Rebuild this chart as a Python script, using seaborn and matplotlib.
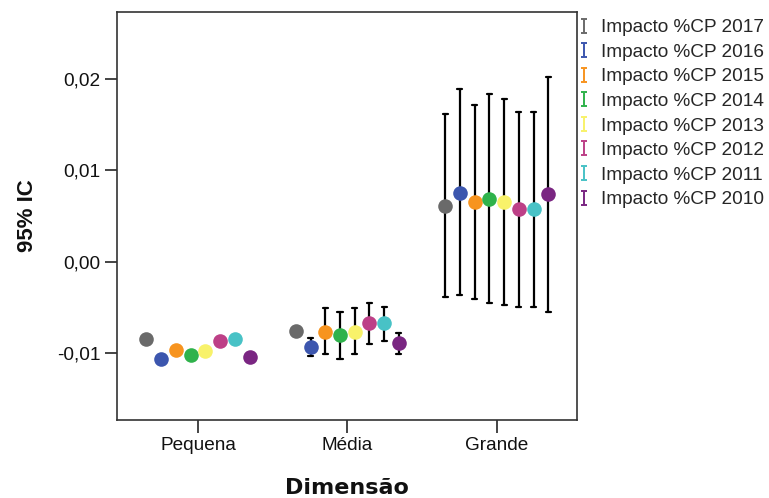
import numpy as np
import pandas as pd
import seaborn as sns
import matplotlib.pyplot as plt
from matplotlib.lines import Line2D
from matplotlib.path import Path
from matplotlib.ticker import FuncFormatter

# Company size groups and the yearly series
sizes = ["Pequena", "Média", "Grande"]
years = ["Impacto %CP 2017", "Impacto %CP 2016", "Impacto %CP 2015", "Impacto %CP 2014",
         "Impacto %CP 2013", "Impacto %CP 2012", "Impacto %CP 2011", "Impacto %CP 2010"]
colors = ["#6a6a6a", "#3c56ae", "#f7941f", "#2fb24b", "#f8f26a", "#bd4087", "#48c2c6", "#7a2682"]

# Means per year, one list per size group (order follows `years`)
mean_pequena = [-0.00853, -0.01069, -0.00970, -0.01025, -0.00978, -0.00868, -0.00853, -0.01044]
mean_media = [-0.00759, -0.00941, -0.00770, -0.00806, -0.00770, -0.00678, -0.00678, -0.00897]
mean_grande = [0.00609, 0.00754, 0.00649, 0.00685, 0.00649, 0.00576, 0.00576, 0.00737]

# Lower / upper limits of the 95% confidence intervals
low_pequena = [-0.00883, -0.01099, -0.01000, -0.01055, -0.01008, -0.00898, -0.00883, -0.01074]
high_pequena = [-0.00823, -0.01039, -0.00940, -0.00995, -0.00948, -0.00838, -0.00823, -0.01014]
low_media = [-0.00799, -0.01036, -0.01014, -0.01069, -0.01014, -0.00905, -0.00868, -0.01014]
high_media = [-0.00719, -0.00842, -0.00513, -0.00550, -0.00513, -0.00452, -0.00496, -0.00787]
low_grande = [-0.00393, -0.00367, -0.00415, -0.00458, -0.00477, -0.00496, -0.00496, -0.00550]
high_grande = [0.01617, 0.01891, 0.01719, 0.01837, 0.01778, 0.01643, 0.01636, 0.02026]

y_ticks = [-0.01, 0.00, 0.01, 0.02]

# Long table: each interval is given by its low, centre and high value, so the
# median is the centre and the full range (0-100 percentile) is the interval.
rows = []
groups = [(mean_pequena, low_pequena, high_pequena),
          (mean_media, low_media, high_media),
          (mean_grande, low_grande, high_grande)]
for size, (means, lows, highs) in zip(sizes, groups):
    for yr, m, lo, hi in zip(years, means, lows, highs):
        for v in (lo, m, hi):
            rows.append({"Dimensão": size, "Série": yr, "valor": v})
df = pd.DataFrame(rows)

sns.set_theme(style="ticks")
plt.rcParams["font.family"] = ["Liberation Sans", "DejaVu Sans"]

fig = plt.figure(figsize=(7.69, 4.98), dpi=100)
ax = fig.add_axes([116.7 / 769, 1 - 420 / 498, 460.3 / 769, 408 / 498])

sns.pointplot(
    data=df, x="Dimensão", y="valor", hue="Série",
    order=sizes, hue_order=years, palette=colors,
    estimator="median", errorbar=("pi", 100),
    dodge=0.69, capsize=0.034, linestyle="none",
    marker="o", markersize=10.5, markeredgewidth=0,
    err_kws={"color": "black", "linewidth": 1.6, "zorder": 1.5},
    legend=False, ax=ax,
)

ax.set_xlim(-0.544, 2.537)
ax.set_ylim(-0.01738, 0.02736)
ax.set_yticks(y_ticks)
ax.yaxis.set_major_formatter(FuncFormatter(lambda v, _: f"{v:.2f}".replace(".", ",").replace("-0,00", "0,00")))

for side in ["top", "right", "bottom", "left"]:
    ax.spines[side].set_visible(True)
    ax.spines[side].set_color("#333333")
    ax.spines[side].set_linewidth(1.2)

ax.tick_params(axis="both", length=9, width=1.4, color="#444444",
               labelsize=13.7, labelcolor="#111111")
ax.tick_params(axis="x", pad=3.5)
ax.tick_params(axis="y", pad=2.5)

ax.set_ylabel("95% IC", fontsize=16, fontweight="bold", color="#111111")
ax.yaxis.set_label_coords(-0.171, 0.5)
ax.set_xlabel("Dimensão", fontsize=16, fontweight="bold", color="#111111",
              family="DejaVu Sans")
ax.xaxis.set_label_coords(0.5, -0.142)

# Legend symbols shaped like a capped error bar
i_path = Path(
    [(-0.45, 1), (0.45, 1), (0, 1), (0, -1), (-0.45, -1), (0.45, -1)],
    [Path.MOVETO, Path.LINETO, Path.MOVETO, Path.LINETO, Path.MOVETO, Path.LINETO],
)
handles = [Line2D([], [], linestyle="none", marker=i_path, markersize=10,
                  markeredgewidth=1.4, markeredgecolor=c, markerfacecolor="none")
           for c in colors]
fig.legend(handles, years, loc="upper left",
           bbox_to_anchor=(580 / 769, 1 - 19 / 498),
           frameon=False, fontsize=13.7, borderpad=0, borderaxespad=0,
           handlelength=0.4, handletextpad=0.7, labelspacing=0.38)

fig.savefig("out.png", dpi=100)
